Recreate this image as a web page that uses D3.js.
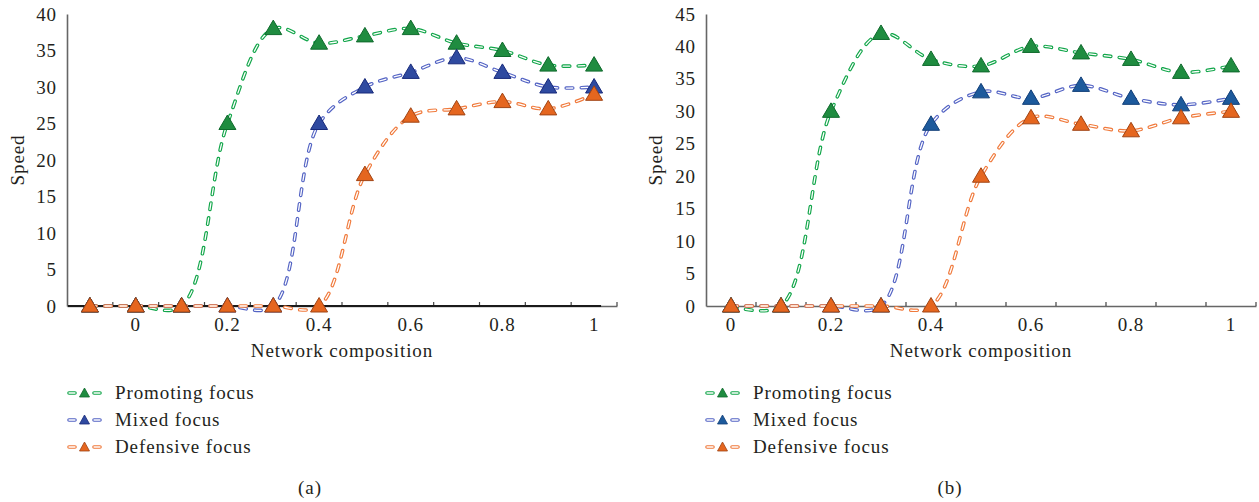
<!DOCTYPE html>
<html><head><meta charset="utf-8">
<script src="https://cdn.jsdelivr.net/npm/d3@7"></script>
<style>
body{margin:0;background:#fff}
text{font-family:"Liberation Serif",serif;fill:#231f20;font-size:19px;letter-spacing:0.9px}
</style>
</head><body>
<svg id="c" width="1259" height="502"></svg>
<script>
// ---- data ----
const catsA = ["-0.1","0","0.1","0.2","0.3","0.4","0.5","0.6","0.7","0.8","0.9","1"];
const catsB = ["0","0.1","0.2","0.3","0.4","0.5","0.6","0.7","0.8","0.9","1"];
const tickLabelsA = ["0","0.2","0.4","0.6","0.8","1"];
const tickLabelsB = ["0","0.2","0.4","0.6","0.8","1"];
const yTicksA = [0,5,10,15,20,25,30,35,40];
const yTicksB = [0,5,10,15,20,25,30,35,40,45];
const seriesNames = ["Promoting focus","Mixed focus","Defensive focus"];
const promotingA = [0,0,0,25,38,36,37,38,36,35,33,33];
const mixedA     = [0,0,0,0,0,25,30,32,34,32,30,30];
const defensiveA = [0,0,0,0,0,0,18,26,27,28,27,29];
const promotingB = [0,0,30,42,38,37,40,39,38,36,37];
const mixedB     = [0,0,0,0,28,33,32,34,32,31,32];
const defensiveB = [0,0,0,0,0,20,29,28,27,29,30];
const xTitle = "Network composition";
const yTitle = "Speed";
const panelLabels = ["(a)","(b)"];

// ---- styles ----
const lineColors = ["#12a64a","#5464c4","#f07a3c"];
const styleA = [
  {fill:"#1f8c40",stroke:"#0f6a2c"},
  {fill:"#2f4aa0",stroke:"#17297a"},
  {fill:"#e5661f",stroke:"#a04414"}];
const styleB = [
  {fill:"#1f8c40",stroke:"#0f6a2c"},
  {fill:"#1d5a9c",stroke:"#123f78"},
  {fill:"#e5661f",stroke:"#a04414"}];

const svg = d3.select("#c");
const tri = "M0,-8.5L8.5,6L-8.5,6Z";
const triSmall = "M0,-5L5,4L-5,4Z";

function panel(cfg){
  const g = svg.append("g");
  const x = d3.scaleBand().domain(cfg.cats).range([cfg.left, cfg.right]).paddingInner(0).paddingOuter(0);
  const y = d3.scaleLinear().domain([0, cfg.ymax]).range([306, 14]);
  const cx = c => x(c) + x.bandwidth()/2;

  // y axis
  const ya = g.append("g").attr("transform",`translate(${cfg.left},0)`)
    .call(d3.axisLeft(y).tickValues(cfg.yTicks).tickSize(0).tickPadding(10).tickFormat(d3.format("d")));
  ya.select(".domain").attr("stroke","#666").attr("stroke-width",1.6);
  ya.selectAll("text").style("font-family","Liberation Serif").style("font-size","19px").attr("fill","#231f20");

  // x axis (labels only)
  const xa = g.append("g").attr("transform",`translate(0,306)`)
    .call(d3.axisBottom(x).tickValues(cfg.tickLabels).tickSize(0).tickPadding(12));
  xa.select(".domain").attr("stroke","#666").attr("stroke-width",1.6);
  xa.selectAll("text").style("font-family","Liberation Serif").style("font-size","19px").attr("fill","#231f20");
  // tick marks at category boundaries (pointing up)
  const bounds = d3.range(1, cfg.cats.length+1).map(i => cfg.left + i*x.step());
  g.selectAll(".bt").data(bounds).join("line")
    .attr("x1",d=>d).attr("x2",d=>d).attr("y1",306).attr("y2",302)
    .attr("stroke","#444").attr("stroke-width",1.2);
  if(cfg.darkZero){
    g.append("line").attr("x1",cfg.left+1).attr("x2",cx(cfg.cats[cfg.cats.length-1])+7)
      .attr("y1",y(0)).attr("y2",y(0)).attr("stroke","#1a1a1a").attr("stroke-width",2.2);
  }

  // titles
  g.append("text").attr("x",(cfg.left+cfg.right)/2).attr("y",357).attr("text-anchor","middle").text(xTitle);
  g.append("text").attr("transform",`translate(${cfg.ytx},160) rotate(-90)`).attr("text-anchor","middle").text(yTitle);

  // series
  const line = d3.line().x((d,i)=>cx(cfg.cats[i])).y(d=>y(d)).curve(d3.curveCatmullRom.alpha(0.5));
  cfg.series.forEach((vals,si)=>{
    const sg = g.append("g");
    sg.append("path").attr("d",line(vals)).attr("fill","none")
      .attr("stroke",lineColors[si]).attr("stroke-width",3.6).attr("stroke-linecap","round")
      .attr("stroke-dasharray","6.5 8.5");
    sg.append("path").attr("d",line(vals)).attr("fill","none")
      .attr("stroke","#fff").attr("stroke-width",1.3).attr("stroke-linecap","round")
      .attr("stroke-dasharray","6.5 8.5");
  });
  cfg.series.forEach((vals,si)=>{
    g.append("g").selectAll("path").data(vals).join("path")
      .attr("d",tri).attr("transform",(d,i)=>`translate(${cx(cfg.cats[i])},${y(d)})`)
      .attr("fill",cfg.styles[si].fill).attr("stroke",cfg.styles[si].stroke).attr("stroke-width",1);
  });

  // legend
  seriesNames.forEach((nm,si)=>{
    const ly = 393 + si*27;
    const lx = cfg.legX;
    const lg = g.append("g");
    [[lx+2,lx+8],[lx+27,lx+33]].forEach(([a,b])=>{
      lg.append("line").attr("x1",a).attr("x2",b).attr("y1",ly).attr("y2",ly)
        .attr("stroke",lineColors[si]).attr("stroke-width",3.6).attr("stroke-linecap","round");
      lg.append("line").attr("x1",a).attr("x2",b).attr("y1",ly).attr("y2",ly)
        .attr("stroke","#fff").attr("stroke-width",1.3).attr("stroke-linecap","round");
    });
    lg.append("path").attr("d",triSmall).attr("transform",`translate(${lx+17.5},${ly})`)
      .attr("fill",cfg.styles[si].fill).attr("stroke",cfg.styles[si].stroke).attr("stroke-width",0.8);
    lg.append("text").attr("x",lx+48).attr("y",ly+6).text(nm);
  });
  g.append("text").attr("x",cfg.labX).attr("y",494).attr("text-anchor","middle").text(cfg.label);
}

panel({cats:catsA, left:67, right:617, ymax:40, yTicks:yTicksA, tickLabels:tickLabelsA,
  series:[promotingA,mixedA,defensiveA], styles:styleA, ytx:24, legX:67, labX:310, label:panelLabels[0], darkZero:true});
panel({cats:catsB, left:706, right:1256, ymax:45, yTicks:yTicksB, tickLabels:tickLabelsB,
  series:[promotingB,mixedB,defensiveB], styles:styleB, ytx:662, legX:705, labX:950, label:panelLabels[1], darkZero:false});
</script>
</body></html>
